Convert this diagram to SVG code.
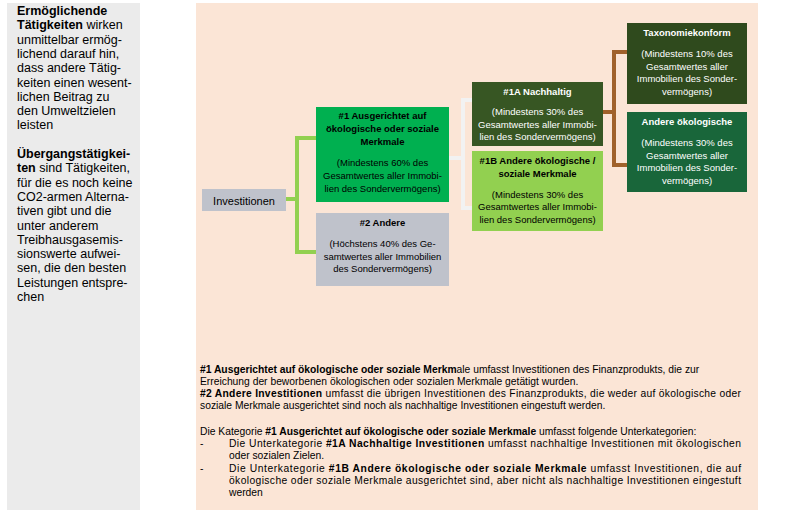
<svg xmlns="http://www.w3.org/2000/svg" width="800" height="510" viewBox="0 0 800 510">
<style>
text{font-family:"Liberation Sans",Arial,sans-serif;fill:#000}
.side{font-size:12.5px}
.b{font-weight:bold}
.box{font-size:9.5px;text-anchor:middle}
.w{fill:#fff}
.inv{font-size:11px;text-anchor:middle}
.foot{font-size:10.3px}
.conn{fill:none;stroke-width:4}
</style>
<rect x="0" y="0" width="800" height="510" fill="#fff"/>
<rect id="sidepanel" x="7" y="3" width="133" height="507" fill="#ebebeb"/>
<rect id="mainpanel" x="196" y="3" width="562" height="507" fill="#fbe5d6"/>

<g id="sidetext" class="side">
<text x="17" y="15" class="b">Ermöglichende</text>
<text x="17" y="29.3"><tspan class="b">Tätigkeiten</tspan> wirken</text>
<text x="17" y="43.6">unmittelbar ermög-</text>
<text x="17" y="57.9">lichend darauf hin,</text>
<text x="17" y="72.2">dass andere Tätig-</text>
<text x="17" y="86.5">keiten einen wesent-</text>
<text x="17" y="100.8">lichen Beitrag zu</text>
<text x="17" y="115.1">den Umweltzielen</text>
<text x="17" y="129.4">leisten</text>
<text x="17" y="158" class="b">Übergangstätigkei-</text>
<text x="17" y="172.3"><tspan class="b">ten</tspan> sind Tätigkeiten,</text>
<text x="17" y="186.6">für die es noch keine</text>
<text x="17" y="200.9">CO2-armen Alterna-</text>
<text x="17" y="215.2">tiven gibt und die</text>
<text x="17" y="229.5">unter anderem</text>
<text x="17" y="243.8">Treibhausgasemis-</text>
<text x="17" y="258.1">sionswerte aufwei-</text>
<text x="17" y="272.4">sen, die den besten</text>
<text x="17" y="286.7">Leistungen entspre-</text>
<text x="17" y="301">chen</text>
</g>

<g id="connectors">
<path class="conn" stroke="#92d050" d="M286 199H297M316 138H297V252H316"/>
<path class="conn" stroke="#f2f2f2" d="M449 158H463M472 100H463V208H472"/>
<path class="conn" stroke="#a0612b" d="M603 112H614M627 52H614V165H627"/>
</g>

<g id="investitionen">
<rect x="202" y="189" width="84" height="22" fill="#bfc2cb"/>
<text x="244" y="205" class="inv">Investitionen</text>
</g>

<g id="n1">
<rect x="316" y="107" width="133" height="95" fill="#00b050"/>
<text class="box b" x="382.5" y="119">#1 Ausgerichtet auf</text>
<text class="box b" x="382.5" y="132">ökologische oder soziale</text>
<text class="box b" x="382.5" y="145">Merkmale</text>
<text class="box" x="382.5" y="165.5">(Mindestens 60% des</text>
<text class="box" x="382.5" y="178.5">Gesamtwertes aller Immobi-</text>
<text class="box" x="382.5" y="191.5">lien des Sondervermögens)</text>
</g>

<g id="n2">
<rect x="316" y="213" width="133" height="73" fill="#bfc2cb"/>
<text class="box b" x="382.5" y="226">#2 Andere</text>
<text class="box" x="382.5" y="247">(Höchstens 40% des Ge-</text>
<text class="box" x="382.5" y="259.5">samtwertes aller Immobilien</text>
<text class="box" x="382.5" y="272">des Sondervermögens)</text>
</g>

<g id="n1a">
<rect x="472" y="82" width="131" height="64" fill="#375623"/>
<text class="box b w" x="537.5" y="95">#1A Nachhaltig</text>
<text class="box w" x="537.5" y="115">(Mindestens 30% des</text>
<text class="box w" x="537.5" y="127.5">Gesamtwertes aller Immobi-</text>
<text class="box w" x="537.5" y="140">lien des Sondervermögens)</text>
</g>

<g id="n1b">
<rect x="472" y="151" width="131" height="80" fill="#92d050"/>
<text class="box b" x="537.5" y="163.5">#1B Andere ökologische /</text>
<text class="box b" x="537.5" y="177">soziale Merkmale</text>
<text class="box" x="537.5" y="197.5">(Mindestens 30% des</text>
<text class="box" x="537.5" y="210">Gesamtwertes aller Immobi-</text>
<text class="box" x="537.5" y="222.5">lien des Sondervermögens)</text>
</g>

<g id="taxonomie">
<rect x="627" y="23" width="120" height="81" fill="#2f4a1d"/>
<text class="box b w" x="687" y="36">Taxonomiekonform</text>
<text class="box w" x="687" y="57">(Mindestens 10% des</text>
<text class="box w" x="687" y="69.5">Gesamtwertes aller</text>
<text class="box w" x="687" y="82">Immobilien des Sonder-</text>
<text class="box w" x="687" y="94.5">vermögens)</text>
</g>

<g id="andere-oeko">
<rect x="627" y="112" width="120" height="80" fill="#19663a"/>
<text class="box b w" x="687" y="125">Andere ökologische</text>
<text class="box w" x="687" y="146">(Mindestens 30% des</text>
<text class="box w" x="687" y="158.5">Gesamtwertes aller</text>
<text class="box w" x="687" y="171">Immobilien des Sonder-</text>
<text class="box w" x="687" y="183.5">vermögens)</text>
</g>

<g id="footnotes" class="foot">
<text x="200" y="372.5"><tspan class="b">#1 Ausgerichtet auf ökologische oder soziale Merkm</tspan>ale umfasst Investitionen des Finanzprodukts, die zur</text>
<text x="200" y="384.8">Erreichung der beworbenen ökologischen oder sozialen Merkmale getätigt wurden.</text>
<text x="200" y="397" textLength="541" lengthAdjust="spacing"><tspan class="b">#2 Andere Investitionen</tspan> umfasst die übrigen Investitionen des Finanzprodukts, die weder auf ökologische oder</text>
<text x="200" y="409.3">soziale Merkmale ausgerichtet sind noch als nachhaltige Investitionen eingestuft werden.</text>
<text x="200" y="435">Die Kategorie <tspan class="b">#1 Ausgerichtet auf ökologische oder soziale Merkmale</tspan> umfasst folgende Unterkategorien:</text>
<text x="200" y="447">-</text>
<text x="229" y="447" textLength="512" lengthAdjust="spacing">Die Unterkategorie <tspan class="b">#1A Nachhaltige Investitionen</tspan> umfasst nachhaltige Investitionen mit ökologischen</text>
<text x="229" y="459.3">oder sozialen Zielen.</text>
<text x="200" y="471.5">-</text>
<text x="229" y="471.5" textLength="512" lengthAdjust="spacing">Die Unterkategorie <tspan class="b">#1B Andere ökologische oder soziale Merkmale</tspan> umfasst Investitionen, die auf</text>
<text x="229" y="483.8" textLength="512" lengthAdjust="spacing">ökologische oder soziale Merkmale ausgerichtet sind, aber nicht als nachhaltige Investitionen eingestuft</text>
<text x="229" y="496">werden</text>
</g>
</svg>
